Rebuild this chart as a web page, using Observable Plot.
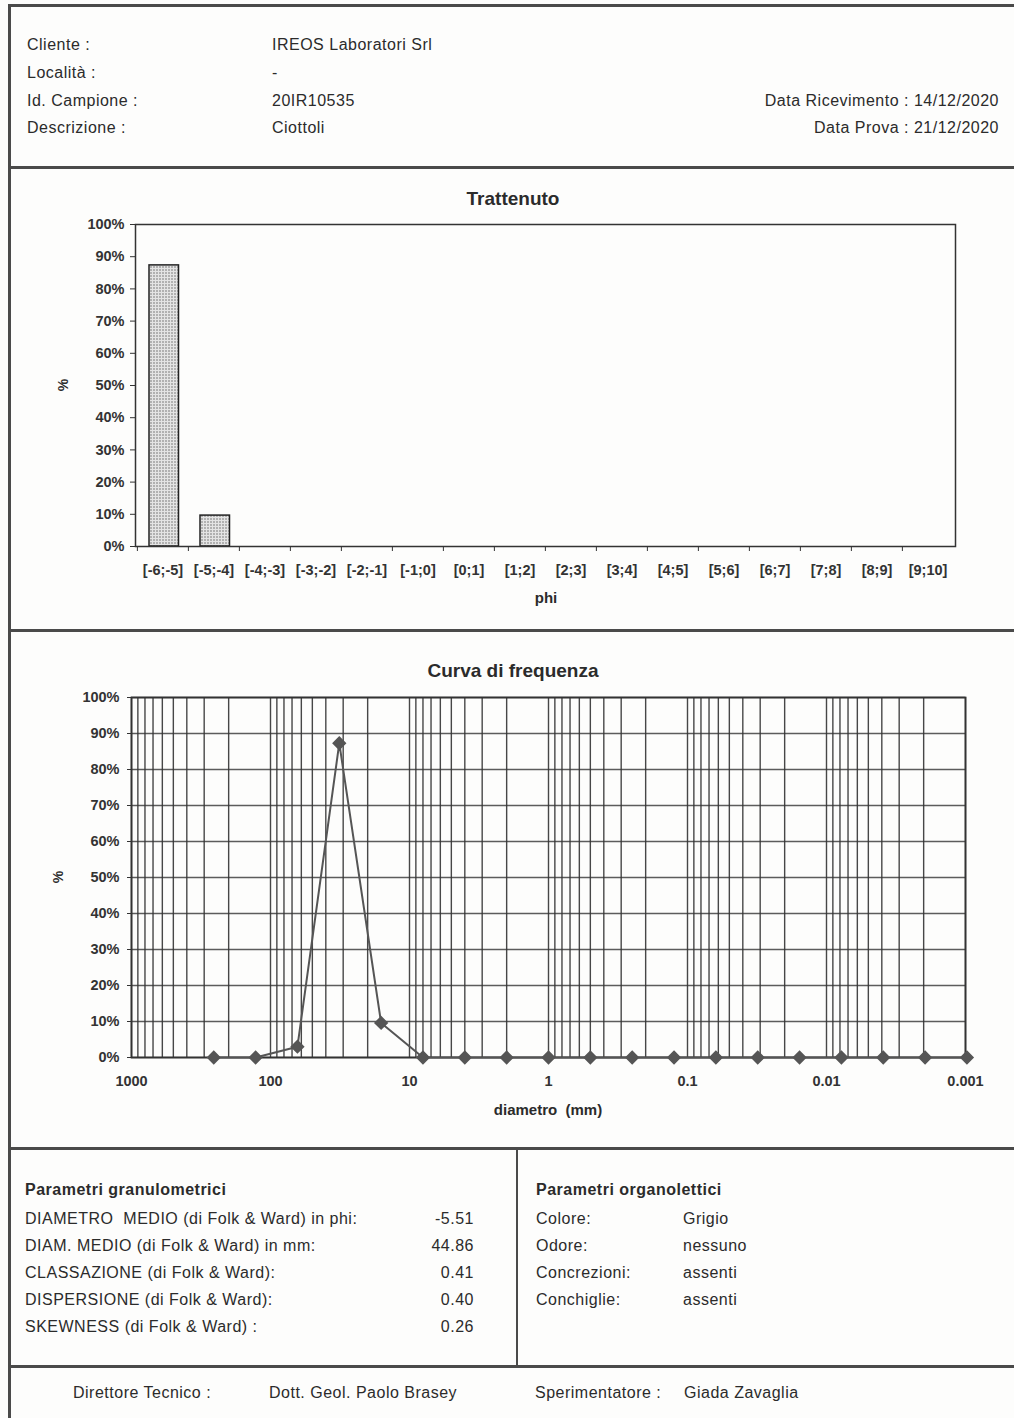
<!DOCTYPE html>
<html><head><meta charset="utf-8">
<script src="https://cdn.jsdelivr.net/npm/d3@7"></script>
<script src="https://cdn.jsdelivr.net/npm/@observablehq/plot@0.6"></script>
<style>
body{margin:0;background:#fff;}
#page{position:relative;width:1014px;height:1418px;overflow:hidden;background:#fdfdfc;font-family:"Liberation Sans",Arial,sans-serif;color:#2b2b2b;}
.t{position:absolute;font-size:16px;line-height:18px;white-space:pre;letter-spacing:0.5px;}
.b{font-weight:bold;}
.ln{position:absolute;background:#4a4a4a;}
.chart{position:absolute;left:0;}
</style></head><body><div id="page"></div>
<script>
// ---- data ----
const phiClasses = ["[-6;-5]","[-5;-4]","[-4;-3]","[-3;-2]","[-2;-1]","[-1;0]","[0;1]","[1;2]","[2;3]","[3;4]","[4;5]","[5;6]","[6;7]","[7;8]","[8;9]","[9;10]"];
const trattenuto = [87.3, 9.6, 0, 0, 0, 0, 0, 0, 0, 0, 0, 0, 0, 0, 0, 0];
const diametri = [256, 128, 64, 32, 16, 8, 4, 2, 1, 0.5, 0.25, 0.125, 0.0625, 0.03125, 0.015625, 0.0078125, 0.00390625, 0.001953125, 0.0009765625];
const frequenza = [0, 0, 3.0, 87.3, 9.6, 0, 0, 0, 0, 0, 0, 0, 0, 0, 0, 0, 0, 0, 0];
const yTicks = [0, 10, 20, 30, 40, 50, 60, 70, 80, 90, 100];
const xLabelTicks = [1000, 100, 10, 1, 0.1, 0.01, 0.001];

const headerLeft = [["Cliente :", "IREOS Laboratori Srl"], ["Località :", "-"], ["Id. Campione :", "20IR10535"], ["Descrizione :", "Ciottoli"]];
const headerRight = ["Data Ricevimento : 14/12/2020", "Data Prova : 21/12/2020"];
const paramGranLabels = ["DIAMETRO  MEDIO (di Folk & Ward) in phi:", "DIAM. MEDIO (di Folk & Ward) in mm:", "CLASSAZIONE (di Folk & Ward):", "DISPERSIONE (di Folk & Ward):", "SKEWNESS (di Folk & Ward) :"];
const paramGranValues = ["-5.51", "44.86", "0.41", "0.40", "0.26"];
const paramOrgLabels = ["Colore:", "Odore:", "Concrezioni:", "Conchiglie:"];
const paramOrgValues = ["Grigio", "nessuno", "assenti", "assenti"];
const footer = [["Direttore Tecnico :", 73], ["Dott. Geol. Paolo Brasey", 269], ["Sperimentatore :", 535], ["Giada Zavaglia", 684]];

// ---- helpers ----
const page = document.getElementById("page");
function txt(x, cy, s, cls = "", align = "left", size = 16) {
  const d = document.createElement("div");
  d.className = "t " + cls;
  d.textContent = s;
  d.style.fontSize = size + "px";
  d.style.top = (cy - 9) + "px";
  if (align === "right") d.style.right = (1014 - x) + "px";
  else if (align === "center") { d.style.left = (x - 300) + "px"; d.style.width = "600px"; d.style.textAlign = "center"; d.style.letterSpacing = "0px"; }
  else d.style.left = x + "px";
  page.appendChild(d);
  return d;
}
function line(x, y, w, h) {
  const d = document.createElement("div");
  d.className = "ln";
  Object.assign(d.style, {left: x + "px", top: y + "px", width: w + "px", height: h + "px"});
  page.appendChild(d);
}

// ---- frame lines ----
line(8, 4, 1006, 3);
line(8, 4, 3, 1414);
line(8, 166, 1006, 3);
line(8, 629, 1006, 3);
line(8, 1147, 1006, 3);
line(8, 1365, 1006, 3);
line(516, 1148, 2, 218);

// ---- header ----
const hy = [45, 73, 101, 128];
headerLeft.forEach(([a, b], i) => { txt(27, hy[i], a); txt(272, hy[i], b); });
txt(999, hy[2], headerRight[0], "", "right");
txt(999, hy[3], headerRight[1], "", "right");

// ---- bar chart ----
const fontStyle = {fontFamily: "Liberation Sans, Arial, sans-serif", fontSize: "14.5px", fontWeight: "bold", color: "#333", background: "transparent"};
const barData = phiClasses.map((c, i) => ({c, v: trattenuto[i]}));
const bandW = (955 - 135) / phiClasses.length;
const bar = Plot.plot({
  width: 1014, height: 460,
  marginLeft: 135, marginRight: 59, marginTop: 54, marginBottom: 84,
  style: fontStyle,
  x: {type: "band", domain: phiClasses, padding: 0, label: null},
  y: {domain: [0, 100], label: null},
  marks: [
    Plot.barY(barData, {x: "c", y: "v", fill: "url(#dots)", stroke: "#222", strokeWidth: 1.5, insetLeft: 12, insetRight: 9.5}),
    Plot.frame({stroke: "#333", strokeWidth: 1.5}),
    Plot.axisX({tickSize: 0, tickPadding: 18, label: null}),
    Plot.axisX({tickSize: 5, tickFormat: null, dx: -bandW / 2, label: null}),
    Plot.axisY(yTicks, {tickSize: 5, tickPadding: 6, tickFormat: d => d + "%", label: null})
  ]
});
bar.classList.add("chart");
bar.style.top = "170px";
const defs = d3.select(bar).insert("defs", ":first-child");
const pat = defs.append("pattern").attr("id", "dots").attr("width", 3).attr("height", 3).attr("patternUnits", "userSpaceOnUse");
pat.append("rect").attr("width", 3).attr("height", 3).attr("fill", "#e4e4e4");
pat.append("circle").attr("cx", 1).attr("cy", 1).attr("r", 0.75).attr("fill", "#666");
page.appendChild(bar);
txt(513, 199, "Trattenuto", "b", "center", 19);
txt(546, 598, "phi", "b", "center", 15);
const p1 = txt(63, 385, "%", "b", "center", 14);
p1.style.transform = "rotate(-90deg)";

// ---- frequency curve ----
const pts = diametri.map((d, i) => ({d, v: frequenza[i]}));
const gridDiam = d3.scaleLog().domain([0.001, 1000]).ticks();
const freq = Plot.plot({
  width: 1014, height: 500,
  marginLeft: 131, marginRight: 49, marginTop: 57, marginBottom: 83,
  style: fontStyle,
  x: {type: "log", domain: [1000, 0.001], label: null},
  y: {domain: [0, 100], label: null},
  marks: [
    Plot.gridX(gridDiam, {stroke: "#333", strokeOpacity: 0.9, strokeWidth: 1.4}),
    Plot.gridY(yTicks, {stroke: "#333", strokeOpacity: 0.8, strokeWidth: 1.4}),
    Plot.frame({stroke: "#333", strokeWidth: 1.8}),
    Plot.line(pts, {x: "d", y: "v", stroke: "#555", strokeWidth: 2, clip: false}),
    Plot.dot(pts, {x: "d", y: "v", symbol: "diamond2", r: 5.5, fill: "#555", stroke: "#555", clip: false}),
    Plot.axisX(xLabelTicks, {tickSize: 0, tickPadding: 18, tickFormat: d => String(d), label: null}),
    Plot.axisY(yTicks, {tickSize: 4, tickPadding: 8, tickFormat: d => d + "%", label: null})
  ]
});
freq.classList.add("chart");
freq.style.top = "640px";
page.appendChild(freq);
txt(513, 671, "Curva di frequenza", "b", "center", 19);
txt(548, 1110, "diametro  (mm)", "b", "center", 15);
const p2 = txt(58, 877, "%", "b", "center", 14);
p2.style.transform = "rotate(-90deg)";

// ---- parameters ----
txt(25, 1190, "Parametri granulometrici", "b");
txt(536, 1190, "Parametri organolettici", "b");
const py = [1219, 1246, 1273, 1300, 1327];
paramGranLabels.forEach((s, i) => { txt(25, py[i], s); txt(474, py[i], paramGranValues[i], "", "right"); });
paramOrgLabels.forEach((s, i) => { txt(536, py[i], s); txt(683, py[i], paramOrgValues[i]); });

// ---- footer ----
footer.forEach(([s, x]) => txt(x, 1393, s));
</script>
</body></html>
